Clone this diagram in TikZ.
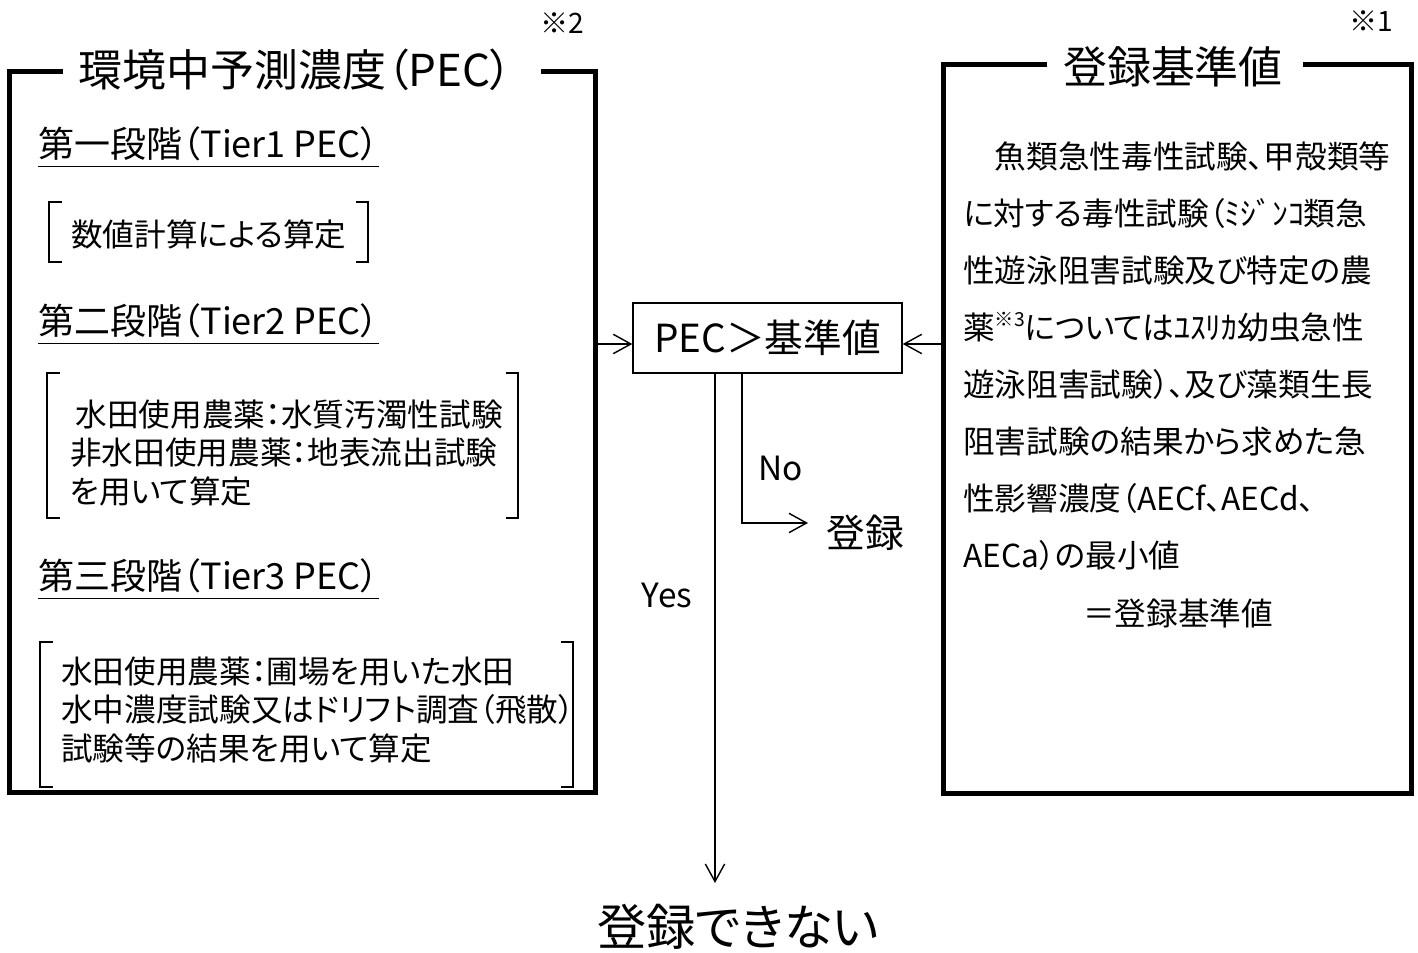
\documentclass[tikz,border=0pt]{standalone}
\usepackage{fontspec}
\setmainfont{Noto Sans CJK JP}[RawFeature={+palt}]
\usetikzlibrary{arrows.meta}
\def\kakko(#1,#2)(#3,#4){\draw[kakkosen] (#1+0.25,#2) -- (#1,#2) -- (#1,#4) -- (#1+0.25,#4); \draw[kakkosen] (#3-0.25,#2) -- (#3,#2) -- (#3,#4) -- (#3-0.25,#4);}
\tikzset{
	waku/.style={line width=1mm},
	kakkosen/.style={line width=0.7pt},
	kasen/.style={line width=0.8pt},
	midashi/.style={inner sep=0pt, font=\fontsize{25}{30}\selectfont},
	chuki/.style={inner sep=0pt, font=\fontsize{16}{19}\selectfont},
	dankai/.style={anchor=base west, inner sep=0pt, font=\fontsize{20.5}{24}\selectfont},
	honbun/.style={anchor=west, align=left, inner sep=0pt, font=\fontsize{18}{21.8}\selectfont},
	setsumei/.style={anchor=west, align=left, inner sep=0pt, font=\fontsize{18}{32.4}\selectfont},
	hako/.style={draw, line width=0.8pt, minimum width=5.38cm, minimum height=1.4cm, inner sep=0pt, font=\fontsize{22}{26}\selectfont},
	kotae/.style={inner sep=0pt, font=\fontsize{19}{22}\selectfont},
	kekkamoji/.style={inner sep=0pt, font=\fontsize{22}{26}\selectfont},
	dekinaimoji/.style={inner sep=0pt, font=\fontsize{28}{33}\selectfont},
	yajirushi/.style={line width=0.8pt, -{Straight Barb[length=10pt,width=11pt]}}
}

\begin{document}
\begin{tikzpicture}
	\useasboundingbox (0,0) rectangle (28.36,19.06);
	
	\draw[waku] (1.26,17.62) -- (0.2,17.62) -- (0.2,3.2) -- (11.9,3.2) -- (11.9,17.62) -- (10.82,17.62);
	\node[midashi] (pec) at (5.91,17.66) {環境中予測濃度（PEC）};
	\node[chuki] (chuki2) at (11.24,18.6) {※2};
	
	\node[dankai] (dan1) at (0.76,15.9) {第一段階（Tier1 PEC）};
	\draw[kasen] ([yshift=-5pt]dan1.base west) -- ([yshift=-5pt]dan1.base east);
	\kakko(0.98,15.02)(7.36,13.82)
	\node[honbun] (keisan) at (1.42,14.38) {数値計算による算定};
	
	\node[dankai] (dan2) at (0.76,12.36) {第二段階（Tier2 PEC）};
	\draw[kasen] ([yshift=-5pt]dan2.base west) -- ([yshift=-5pt]dan2.base east);
	\kakko(0.94,11.6)(10.36,8.7)
	\node[honbun] (suishitsu) at (1.4,10.0) {\kern3pt水田使用農薬：水質汚濁性試験\\非水田使用農薬：地表流出試験\\を用いて算定};
	
	\node[dankai] (dan3) at (0.76,7.26) {第三段階（Tier3 PEC）};
	\draw[kasen] ([yshift=-5pt]dan3.base west) -- ([yshift=-5pt]dan3.base east);
	\kakko(0.8,6.22)(11.46,3.32)
	\node[honbun] (hojou) at (1.22,4.86) {水田使用農薬：圃場を用いた水田\\水中濃度試験又はドリフト調査（飛散）\\試験等の結果を用いて算定};
	
	\draw[waku] (20.94,17.76) -- (18.86,17.76) -- (18.86,3.18) -- (28.22,3.18) -- (28.22,17.76) -- (26.06,17.76);
	\node[midashi] (kijunchi) at (23.46,17.72) {登録基準値};
	\node[chuki] (chuki1) at (27.42,18.64) {※1};
	\node[setsumei] (shiken) at (19.26,11.94) {　魚類急性毒性試験、甲殻類等\\に対する毒性試験（ﾐｼﾞﾝｺ類急\\性遊泳阻害試験及び特定の農\\薬\raisebox{0.4em}{\fontsize{11}{11}\selectfont ※3}についてはﾕｽﾘｶ幼虫急性\\遊泳阻害試験）、及び藻類生長\\阻害試験の結果から求めた急\\性影響濃度（AECf、AECd、\\AECa）の最小値};
	\node[setsumei, anchor=center] (kekka) at (23.56,6.8) {＝登録基準値};
	
	\node[hako] (hantei) at (15.35,12.3) {PEC＞基準値};
	\coordinate (pecR) at (11.9,12.18);
	\coordinate (kijunL) at (18.86,12.18);
	\draw[yajirushi] (pecR) -- (pecR -| hantei.west);
	\draw[yajirushi] (kijunL) -- (kijunL -| hantei.east);
	
	\coordinate (noEnd) at (16.16,8.6);
	\coordinate (noX) at (14.84,0);
	\draw[yajirushi] (hantei.south -| noX) |- (noEnd);
	\node[kotae] (no) at (15.62,9.7) {No};
	\node[kekkamoji] (touroku) at (17.3,8.4) {登録};
	
	\coordinate (yesEnd) at (14.3,1.4);
	\draw[yajirushi] (hantei.south -| yesEnd) -- (yesEnd);
	\node[kotae] (yes) at (13.34,7.16) {Yes};
	\node[dekinaimoji] (dekinai) at (14.76,0.52) {登録できない};
\end{tikzpicture}
\end{document}
